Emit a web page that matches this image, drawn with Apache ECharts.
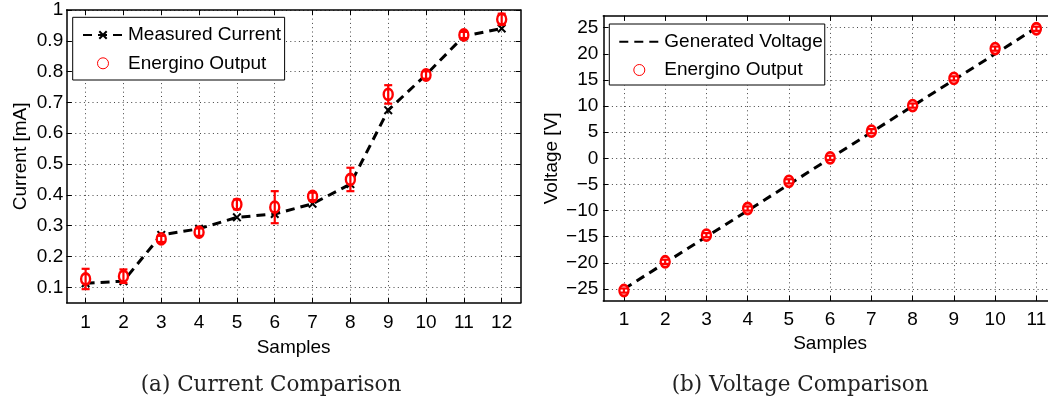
<!DOCTYPE html>
<html><head><meta charset="utf-8">
<script src="https://cdn.jsdelivr.net/npm/echarts@6/dist/echarts.min.js"></script>
<style>html,body{margin:0;padding:0;background:#fff}#c{width:1048px;height:410px}</style>
</head><body><div id="c"></div>
<script>
// ---- data (a) Current Comparison ----
const samplesA = [1, 2, 3, 4, 5, 6, 7, 8, 9, 10, 11, 12];
const measuredCurrent = [0.113, 0.12, 0.27, 0.29, 0.327, 0.338, 0.371, 0.435, 0.675, 0.79, 0.915, 0.94];
const energinoCurrent = [0.127, 0.136, 0.257, 0.279, 0.369, 0.36, 0.395, 0.45, 0.726, 0.789, 0.919, 0.97];
const energinoCurrentErr = [0.033, 0.022, 0.01, 0.012, 0.016, 0.052, 0.012, 0.038, 0.03, 0.012, 0.01, 0.018];
const currentTicks = [0.1, 0.2, 0.3, 0.4, 0.5, 0.6, 0.7, 0.8, 0.9, 1];
// ---- data (b) Voltage Comparison ----
const samplesB = [1, 2, 3, 4, 5, 6, 7, 8, 9, 10, 11];
const generatedVoltage = [-25, -20, -15, -10, -5, 0, 5, 10, 15, 20, 25];
const energinoVoltage = [-25.3, -19.8, -14.7, -9.6, -4.4, 0.1, 5.2, 10.1, 15.3, 21.0, 24.8];
const energinoVoltageErr = [0.4, 0.4, 0.4, 0.4, 0.4, 0.4, 0.4, 0.4, 0.4, 0.4, 0.4];
const voltageTicks = [-25, -20, -15, -10, -5, 0, 5, 10, 15, 20, 25];

const FONT = '"Liberation Sans", Arial, Helvetica, sans-serif';
const FS = 19;
const XMARK = 'path://M0,1.6 L1.6,0 L5,3.4 L8.4,0 L10,1.6 L6.6,5 L10,8.4 L8.4,10 L5,6.6 L1.6,10 L0,8.4 L3.4,5 Z';
const dotted = { color: '#444', width: 1, type: [1, 3.3] };
const axisLineStyle = { color: '#000', width: 1.5 };

function errRender(params, api) {
  const x = api.value(0), y = api.value(1), e = api.value(2);
  const t = api.coord([x, y + e]), b = api.coord([x, y - e]);
  const cap = 4;
  const style = { stroke: '#ff0000', lineWidth: 2.2, fill: null };
  return { type: 'group', children: [
    { type: 'line', shape: { x1: t[0], y1: t[1], x2: b[0], y2: b[1] }, style },
    { type: 'line', shape: { x1: t[0] - cap, y1: t[1], x2: t[0] + cap, y2: t[1] }, style },
    { type: 'line', shape: { x1: b[0] - cap, y1: b[1], x2: b[0] + cap, y2: b[1] }, style }
  ]};
}

function xAxes(grid, ticks, min, max, labelMargin, nameGap) {
  return [{
    gridIndex: grid, type: 'value', position: 'bottom', min, max,
    name: 'Samples', nameLocation: 'middle', nameGap,
    nameTextStyle: { fontFamily: FONT, fontSize: FS, color: '#000' },
    axisLine: { show: true, onZero: false, lineStyle: axisLineStyle },
    axisTick: { show: true, inside: true, length: 5, customValues: ticks, lineStyle: { color: '#000', width: 1 } },
    axisLabel: { customValues: ticks, fontFamily: FONT, fontSize: FS, color: '#000', margin: labelMargin },
    splitLine: { show: true, lineStyle: dotted }
  }, {
    gridIndex: grid, type: 'value', position: 'top', min, max,
    axisLine: { show: true, onZero: false, lineStyle: axisLineStyle },
    axisTick: { show: true, inside: true, length: 5, customValues: ticks, lineStyle: { color: '#000', width: 1 } },
    axisLabel: { show: false },
    splitLine: { show: false }
  }];
}
function yAxes(grid, ticks, min, max, labelMargin, name, nameGap, fmt) {
  return [{
    gridIndex: grid, type: 'value', position: 'left', min, max,
    name, nameLocation: 'middle', nameGap,
    nameTextStyle: { fontFamily: FONT, fontSize: FS, color: '#000' },
    axisLine: { show: true, onZero: false, lineStyle: axisLineStyle },
    axisTick: { show: true, inside: true, length: 5, customValues: ticks, lineStyle: { color: '#000', width: 1 } },
    axisLabel: { customValues: ticks, fontFamily: FONT, fontSize: FS, color: '#000', margin: labelMargin, formatter: fmt },
    splitLine: { show: true, lineStyle: dotted }
  }, {
    gridIndex: grid, type: 'value', position: 'right', min, max,
    axisLine: { show: true, onZero: false, lineStyle: axisLineStyle },
    axisTick: { show: true, inside: true, length: 5, customValues: ticks, lineStyle: { color: '#000', width: 1 } },
    axisLabel: { show: false },
    splitLine: { show: false }
  }];
}

const legendCommon = {
  orient: 'vertical', itemWidth: 40, itemHeight: 11, itemGap: 9.3,
  borderColor: '#000', borderWidth: 1, backgroundColor: '#fff', borderRadius: 0,
  selectedMode: false,
  textStyle: { fontFamily: FONT, fontSize: FS, color: '#000' }
};
const circleIcon = { icon: 'circle', itemStyle: { color: '#fff', borderColor: '#ff0000', borderWidth: 1 } };

const chart = echarts.init(document.getElementById('c'), null, { renderer: 'canvas' });
chart.setOption({
  backgroundColor: '#fff',
  animation: false,
  grid: [
    { left: 66.7, top: 10, width: 453.9, height: 292.7, outerBoundsMode: 'none', containLabel: false },
    { left: 603.3, top: 15.7, width: 453.7, height: 285.3, outerBoundsMode: 'none', containLabel: false }
  ],
  xAxis: [].concat(xAxes(0, samplesA, 0.5, 12.5, 10.5, 35.5), xAxes(1, samplesB, 0.5, 11.5, 9.5, 33.5)),
  yAxis: [].concat(
    yAxes(0, currentTicks, 0.05, 1, 3.5, 'Current [mA]', 36, v => (v === 1 ? '1' : v.toFixed(1))),
    yAxes(1, voltageTicks, -27.3, 27.3, 5, 'Voltage [V]', 42, v => (v < 0 ? '\u2212' + (-v) : String(v)))
  ),
  legend: [
    Object.assign({}, legendCommon, {
      left: 72.7, top: 17.3, padding: [8.2, 3.5, 7.2, 9.3],
      data: [{ name: 'Measured Current' }, Object.assign({ name: 'Energino Output' }, circleIcon)]
    }),
    Object.assign({}, legendCommon, {
      left: 609.3, top: 24, padding: [8.2, 2, 5.5, 9],
      data: [{ name: 'Generated Voltage' }, Object.assign({ name: 'Energino Output' }, circleIcon)]
    })
  ],
  graphic: [
    { type: 'text', left: 140.7, top: 374, style: { text: '(a) Current Comparison', font: '21.5px "DejaVu Serif", serif', fill: '#222' } },
    { type: 'text', left: 671.7, top: 374, style: { text: '(b) Voltage Comparison', font: '21.5px "DejaVu Serif", serif', fill: '#222' } }
  ],
  series: [
    {
      name: 'Measured Current', type: 'line', xAxisIndex: 0, yAxisIndex: 0,
      data: samplesA.map((s, i) => [s, measuredCurrent[i]]),
      symbol: XMARK, symbolSize: 9, showSymbol: true,
      itemStyle: { color: '#000' },
      lineStyle: { color: '#000', width: 3, type: [9, 6] }, z: 2
    },
    {
      name: 'Energino Output', type: 'scatter', xAxisIndex: 0, yAxisIndex: 0,
      data: samplesA.map((s, i) => [s, energinoCurrent[i]]),
      symbol: 'circle', symbolSize: [9, 11],
      itemStyle: { color: '#fff', borderColor: '#ff0000', borderWidth: 2.6, opacity: 1 }, z: 3
    },
    {
      name: 'errA', type: 'custom', xAxisIndex: 0, yAxisIndex: 0,
      data: samplesA.map((s, i) => [s, energinoCurrent[i], energinoCurrentErr[i]]),
      encode: { x: 0, y: 1 }, renderItem: errRender, z: 4
    },
    {
      name: 'Generated Voltage', type: 'line', xAxisIndex: 2, yAxisIndex: 2,
      data: samplesB.map((s, i) => [s, generatedVoltage[i]]),
      symbol: 'circle', showSymbol: false,
      lineStyle: { color: '#000', width: 3, type: [9, 6] },
      itemStyle: { color: 'rgba(0,0,0,0)', borderColor: 'rgba(0,0,0,0)', borderWidth: 0 }, z: 2
    },
    {
      name: 'Energino Output', type: 'scatter', xAxisIndex: 2, yAxisIndex: 2,
      data: samplesB.map((s, i) => [s, energinoVoltage[i]]),
      symbol: 'circle', symbolSize: [9, 11],
      itemStyle: { color: '#fff', borderColor: '#ff0000', borderWidth: 2.6, opacity: 1 }, z: 3
    },
    {
      name: 'errB', type: 'custom', xAxisIndex: 2, yAxisIndex: 2,
      data: samplesB.map((s, i) => [s, energinoVoltage[i], energinoVoltageErr[i]]),
      encode: { x: 0, y: 1 }, renderItem: errRender, z: 4
    }
  ]
});
</script></body></html>
